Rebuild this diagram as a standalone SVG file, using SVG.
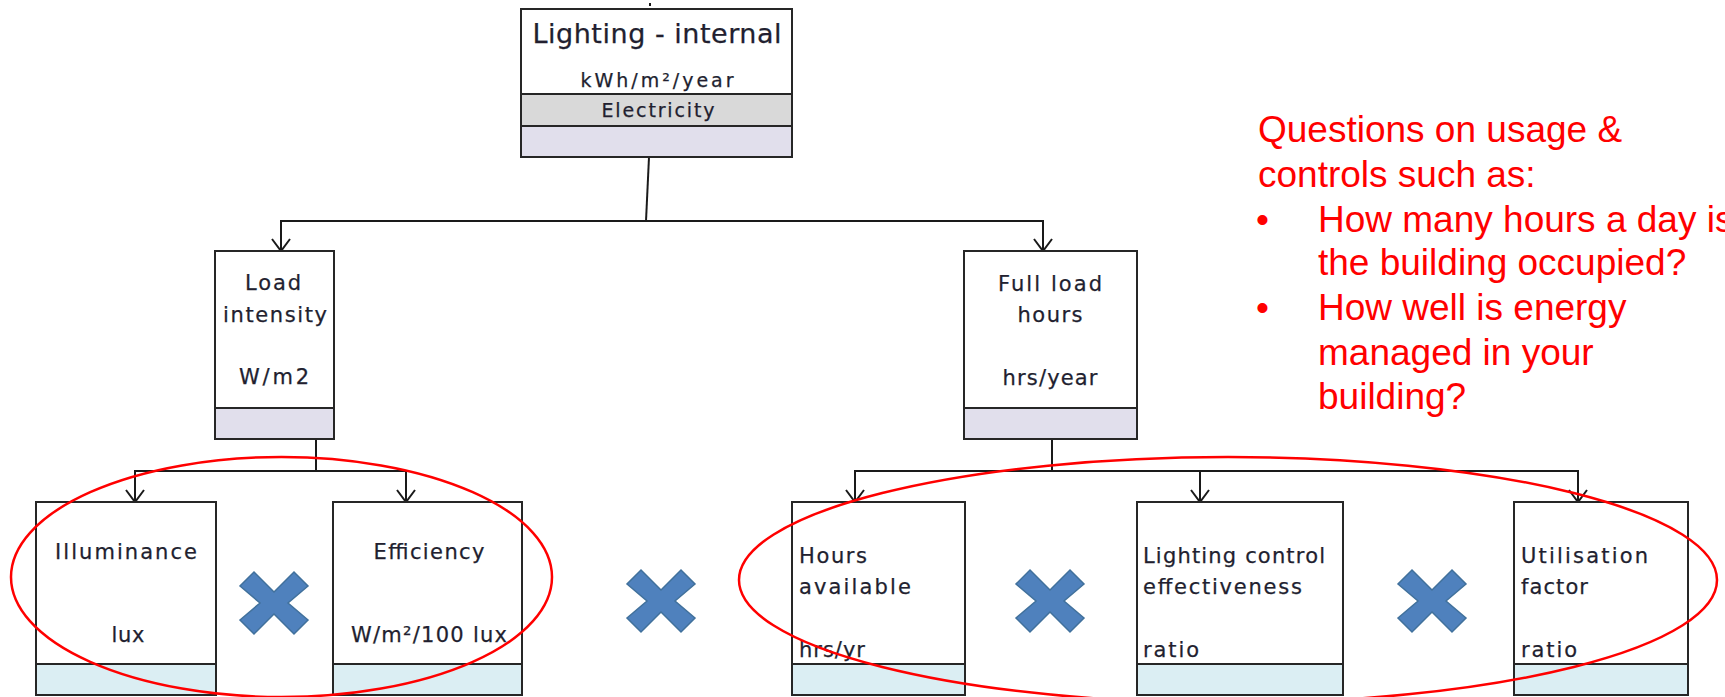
<svg xmlns="http://www.w3.org/2000/svg" width="1725" height="697" viewBox="0 0 1725 697">
<style>
.box{fill:#ffffff;stroke:#262626;stroke-width:2}
.sec{stroke:#262626;stroke-width:2}
.gray{fill:#d9d9d9}
.lav{fill:#e1dfec}
.blue{fill:#dbeef3}
.t{font-family:"DejaVu Sans",Verdana,sans-serif;font-size:21px;fill:#221f30;stroke:#221f30;stroke-width:0.25}
.c{text-anchor:middle}
.conn{fill:none;stroke:#1a1a1a;stroke-width:2}
.ell{fill:none;stroke:#ff0000;stroke-width:2.5}
.mul{fill:#4f81bd;stroke:#41719c;stroke-width:1.5}
.q{font-family:"Liberation Sans",Arial,sans-serif;font-size:37px;fill:#ff0000}
</style>
<defs>
<marker id="v" viewBox="-1 -11 15 22" markerWidth="15" markerHeight="22" markerUnits="userSpaceOnUse" refX="12" refY="0" orient="auto-start-reverse">
<path d="M0,-9 L12,0 L0,9" fill="none" stroke="#1a1a1a" stroke-width="2"/>
</marker>
<polygon id="x" points="-20,-31 0,-11 20,-31 34,-17 14,0 34,17 20,31 0,11 -20,31 -34,17 -14,0 -34,-17"/>
</defs>
<rect width="1725" height="697" fill="#ffffff"/>

<g id="connectors">
<line class="conn" x1="650" y1="3" x2="650" y2="6"/>
<polyline class="conn" points="649,157 646,221"/>
<polyline class="conn" points="281,251 281,221 1043,221 1043,251" marker-start="url(#v)" marker-end="url(#v)"/>
<polyline class="conn" points="135,502 135,471 406,471 406,502" marker-start="url(#v)" marker-end="url(#v)"/>
<line class="conn" x1="316" y1="439" x2="316" y2="472"/>
<polyline class="conn" points="855,502 855,471 1578,471 1578,502" marker-start="url(#v)" marker-end="url(#v)"/>
<line class="conn" x1="1200" y1="471" x2="1200" y2="502" marker-end="url(#v)"/>
<line class="conn" x1="1052" y1="439" x2="1052" y2="472"/>
</g>

<g id="lighting-internal">
<rect class="box" x="521" y="9" width="271" height="148"/>
<rect class="gray sec" x="521" y="94" width="271" height="32"/>
<rect class="lav sec" x="521" y="126" width="271" height="31"/>
<text class="t c" x="657" y="43" style="font-size:27px" textLength="249" lengthAdjust="spacing">Lighting - internal</text>
<text class="t c" x="657" y="87" style="font-size:19px" textLength="153" lengthAdjust="spacing">kWh/m²/year</text>
<text class="t c" x="658" y="117" style="font-size:19px" textLength="113" lengthAdjust="spacing">Electricity</text>
</g>

<g id="load-intensity">
<rect class="box" x="215" y="251" width="119" height="188"/>
<rect class="lav sec" x="215" y="408" width="119" height="31"/>
<text class="t c" x="273" y="290" textLength="56" lengthAdjust="spacing">Load</text>
<text class="t c" x="275" y="322" textLength="104" lengthAdjust="spacing">intensity</text>
<text class="t c" x="274" y="384" textLength="70" lengthAdjust="spacing">W/m2</text>
</g>

<g id="full-load-hours">
<rect class="box" x="964" y="251" width="173" height="188"/>
<rect class="lav sec" x="964" y="408" width="173" height="31"/>
<text class="t c" x="1050" y="291" textLength="104" lengthAdjust="spacing">Full load</text>
<text class="t c" x="1050" y="322" textLength="65" lengthAdjust="spacing">hours</text>
<text class="t c" x="1050" y="385" textLength="95" lengthAdjust="spacing">hrs/year</text>
</g>

<g id="illuminance">
<rect class="box" x="36" y="502" width="180" height="193"/>
<rect class="blue sec" x="36" y="664" width="180" height="31"/>
<text class="t c" x="126" y="559" textLength="142" lengthAdjust="spacing">Illuminance</text>
<text class="t c" x="128" y="642" textLength="33" lengthAdjust="spacing">lux</text>
</g>

<g id="efficiency">
<rect class="box" x="333" y="502" width="189" height="193"/>
<rect class="blue sec" x="333" y="664" width="189" height="31"/>
<text class="t c" x="429" y="559" textLength="111" lengthAdjust="spacing">Efficiency</text>
<text class="t c" x="429" y="642" textLength="156" lengthAdjust="spacing">W/m²/100 lux</text>
</g>

<g id="hours-available">
<rect class="box" x="792" y="502" width="173" height="193"/>
<rect class="blue sec" x="792" y="664" width="173" height="31"/>
<text class="t" x="799" y="563" textLength="68" lengthAdjust="spacing">Hours</text>
<text class="t" x="799" y="594" textLength="112" lengthAdjust="spacing">available</text>
<text class="t" x="799" y="657" textLength="66" lengthAdjust="spacing">hrs/yr</text>
</g>

<g id="lighting-control">
<rect class="box" x="1137" y="502" width="206" height="193"/>
<rect class="blue sec" x="1137" y="664" width="206" height="31"/>
<text class="t" x="1143" y="563" textLength="182" lengthAdjust="spacing">Lighting control</text>
<text class="t" x="1143" y="594" textLength="159" lengthAdjust="spacing">effectiveness</text>
<text class="t" x="1143" y="657" textLength="56" lengthAdjust="spacing">ratio</text>
</g>

<g id="utilisation-factor">
<rect class="box" x="1514" y="502" width="174" height="193"/>
<rect class="blue sec" x="1514" y="664" width="174" height="31"/>
<text class="t" x="1521" y="563" textLength="127" lengthAdjust="spacing">Utilisation</text>
<text class="t" x="1521" y="594" textLength="67" lengthAdjust="spacing">factor</text>
<text class="t" x="1521" y="657" textLength="56" lengthAdjust="spacing">ratio</text>
</g>

<g id="multiply-signs">
<use href="#x" class="mul" x="274" y="603"/>
<use href="#x" class="mul" x="661" y="601"/>
<use href="#x" class="mul" x="1050" y="601"/>
<use href="#x" class="mul" x="1432" y="601"/>
</g>

<g id="highlights">
<ellipse class="ell" cx="281.5" cy="577" rx="270.5" ry="120"/>
<ellipse class="ell" cx="1228" cy="580" rx="489" ry="123"/>
</g>

<g id="questions">
<text class="q" x="1258" y="142">Questions on usage &amp;</text>
<text class="q" x="1258" y="187">controls such as:</text>
<text class="q" x="1256" y="232">•</text>
<text class="q" x="1318" y="232">How many hours a day is</text>
<text class="q" x="1318" y="275">the building occupied?</text>
<text class="q" x="1256" y="320">•</text>
<text class="q" x="1318" y="320">How well is energy</text>
<text class="q" x="1318" y="365">managed in your</text>
<text class="q" x="1318" y="409">building?</text>
</g>
</svg>
